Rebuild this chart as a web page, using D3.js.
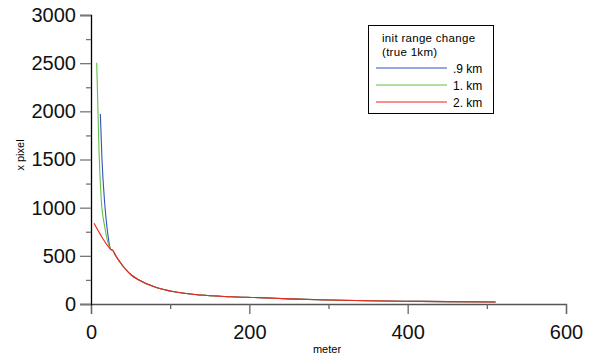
<!DOCTYPE html>
<html>
<head>
<script src="https://d3js.org/d3.v7.min.js"></script>
<style>
  body { margin: 0; background: #fff; }
  svg { font-family: "Liberation Sans", Arial, sans-serif; }
</style>
</head>
<body>
<div id="chart"></div>
<script>
// shared far-range tail (all three runs converge)
const tailMeters = [27.8, 30.7, 36.3, 42.6, 50.9, 60, 80, 100, 138, 176, 214, 250, 300, 350, 400, 450, 511];
const tailPixels = [553, 509, 439, 371, 301, 252, 178, 135, 93, 76, 66, 53, 41, 34, 28, 25, 21];

const blueMeters = [11.8, 13.9, 17.3, 20.6, 24.9].concat(tailMeters);
const bluePixels = [1972, 1495, 1045, 768, 568].concat(tailPixels);

const greenMeters = [7.2, 10.1, 13.0, 17.3, 24.9].concat(tailMeters);
const greenPixels = [2505, 1599, 1080, 802, 568].concat(tailPixels);

const redMeters = [3.8, 8, 12, 16, 20, 24.9].concat(tailMeters);
const redPixels = [838, 775, 720, 665, 615, 568].concat(tailPixels);

const seriesNames = [".9 km", "1. km", "2. km"];
const seriesColors = ["#3050c0", "#60c040", "#f02020"];

const xMajor = [0, 200, 400, 600];
const xMinor = [100, 300, 500];
const yMajor = [0, 500, 1000, 1500, 2000, 2500, 3000];
const yMinor = [250, 750, 1250, 1750, 2250, 2750];

const width = 596, height = 360;

const svg = d3.select('#chart').append('svg')
  .attr('width', width)
  .attr('height', height);

const x = d3.scaleLinear().domain([0, 600]).range([91, 566]);
const y = d3.scaleLinear().domain([0, 3000]).range([304, 15]);

// x axis
const gx = svg.append('g')
  .attr('transform', `translate(0,${y(0)})`)
  .call(d3.axisBottom(x).tickValues(xMajor).tickSize(10).tickPadding(11).tickFormat(d3.format('d')));
gx.select('.domain').attr('stroke', '#555').attr('stroke-width', 1.3);
gx.selectAll('.tick line').attr('stroke', '#666').attr('stroke-width', 1.3);
gx.selectAll('.tick text').attr('font-size', 20).attr('fill', '#111');

svg.append('g')
  .attr('transform', `translate(0,${y(0)})`)
  .call(d3.axisBottom(x).tickValues(xMinor).tickSize(5).tickFormat(''))
  .call(g => g.select('.domain').remove())
  .selectAll('.tick line').attr('stroke', '#666').attr('stroke-width', 1.3);

// y axis
const gy = svg.append('g')
  .attr('transform', `translate(${x(0)},0)`)
  .call(d3.axisLeft(y).tickValues(yMajor).tickSize(11).tickPadding(4).tickFormat(d3.format('d')));
gy.select('.domain').attr('stroke', '#000').attr('stroke-width', 1.3);
gy.selectAll('.tick line').attr('stroke', '#777').attr('stroke-width', 1.3);
gy.selectAll('.tick text').attr('font-size', 20).attr('fill', '#111');

svg.append('g')
  .attr('transform', `translate(${x(0)},0)`)
  .call(d3.axisLeft(y).tickValues(yMinor).tickSize(5).tickFormat(''))
  .call(g => g.select('.domain').remove())
  .selectAll('.tick line').attr('stroke', '#777').attr('stroke-width', 1.3);

// axis titles
svg.append('text')
  .attr('x', 327).attr('y', 353)
  .attr('text-anchor', 'middle')
  .attr('font-size', 11)
  .text('meter');

svg.append('text')
  .attr('transform', 'translate(24,155) rotate(-90)')
  .attr('text-anchor', 'middle')
  .attr('font-size', 11)
  .text('x pixel');

// curves
const series = [
  { m: blueMeters, p: bluePixels },
  { m: greenMeters, p: greenPixels },
  { m: redMeters, p: redPixels }
];

const line = d3.line()
  .x(d => x(d[0]))
  .y(d => y(d[1]))
  .curve(d3.curveMonotoneX);

series.forEach((s, i) => {
  svg.append('path')
    .datum(s.m.map((m, j) => [m, s.p[j]]))
    .attr('fill', 'none')
    .attr('stroke', seriesColors[i])
    .attr('stroke-width', 1.1)
    .attr('d', line);
});

// legend
const lg = svg.append('g');
lg.append('rect')
  .attr('x', 368.5).attr('y', 25.5)
  .attr('width', 125).attr('height', 88)
  .attr('fill', '#fff').attr('stroke', '#000');
lg.append('text').attr('x', 382).attr('y', 42).attr('font-size', 11.5).attr('letter-spacing', 0.3).text('init range change');
lg.append('text').attr('x', 382).attr('y', 56).attr('font-size', 11.5).attr('letter-spacing', 0.3).text('(true 1km)');

seriesNames.forEach((name, i) => {
  const yy = 68 + i * 17;
  lg.append('line')
    .attr('x1', 376).attr('x2', 447)
    .attr('y1', yy).attr('y2', yy)
    .attr('stroke', seriesColors[i]);
  lg.append('text')
    .attr('x', 453).attr('y', yy + 4.5)
    .attr('font-size', 12)
    .text(name);
});
</script>
</body>
</html>
